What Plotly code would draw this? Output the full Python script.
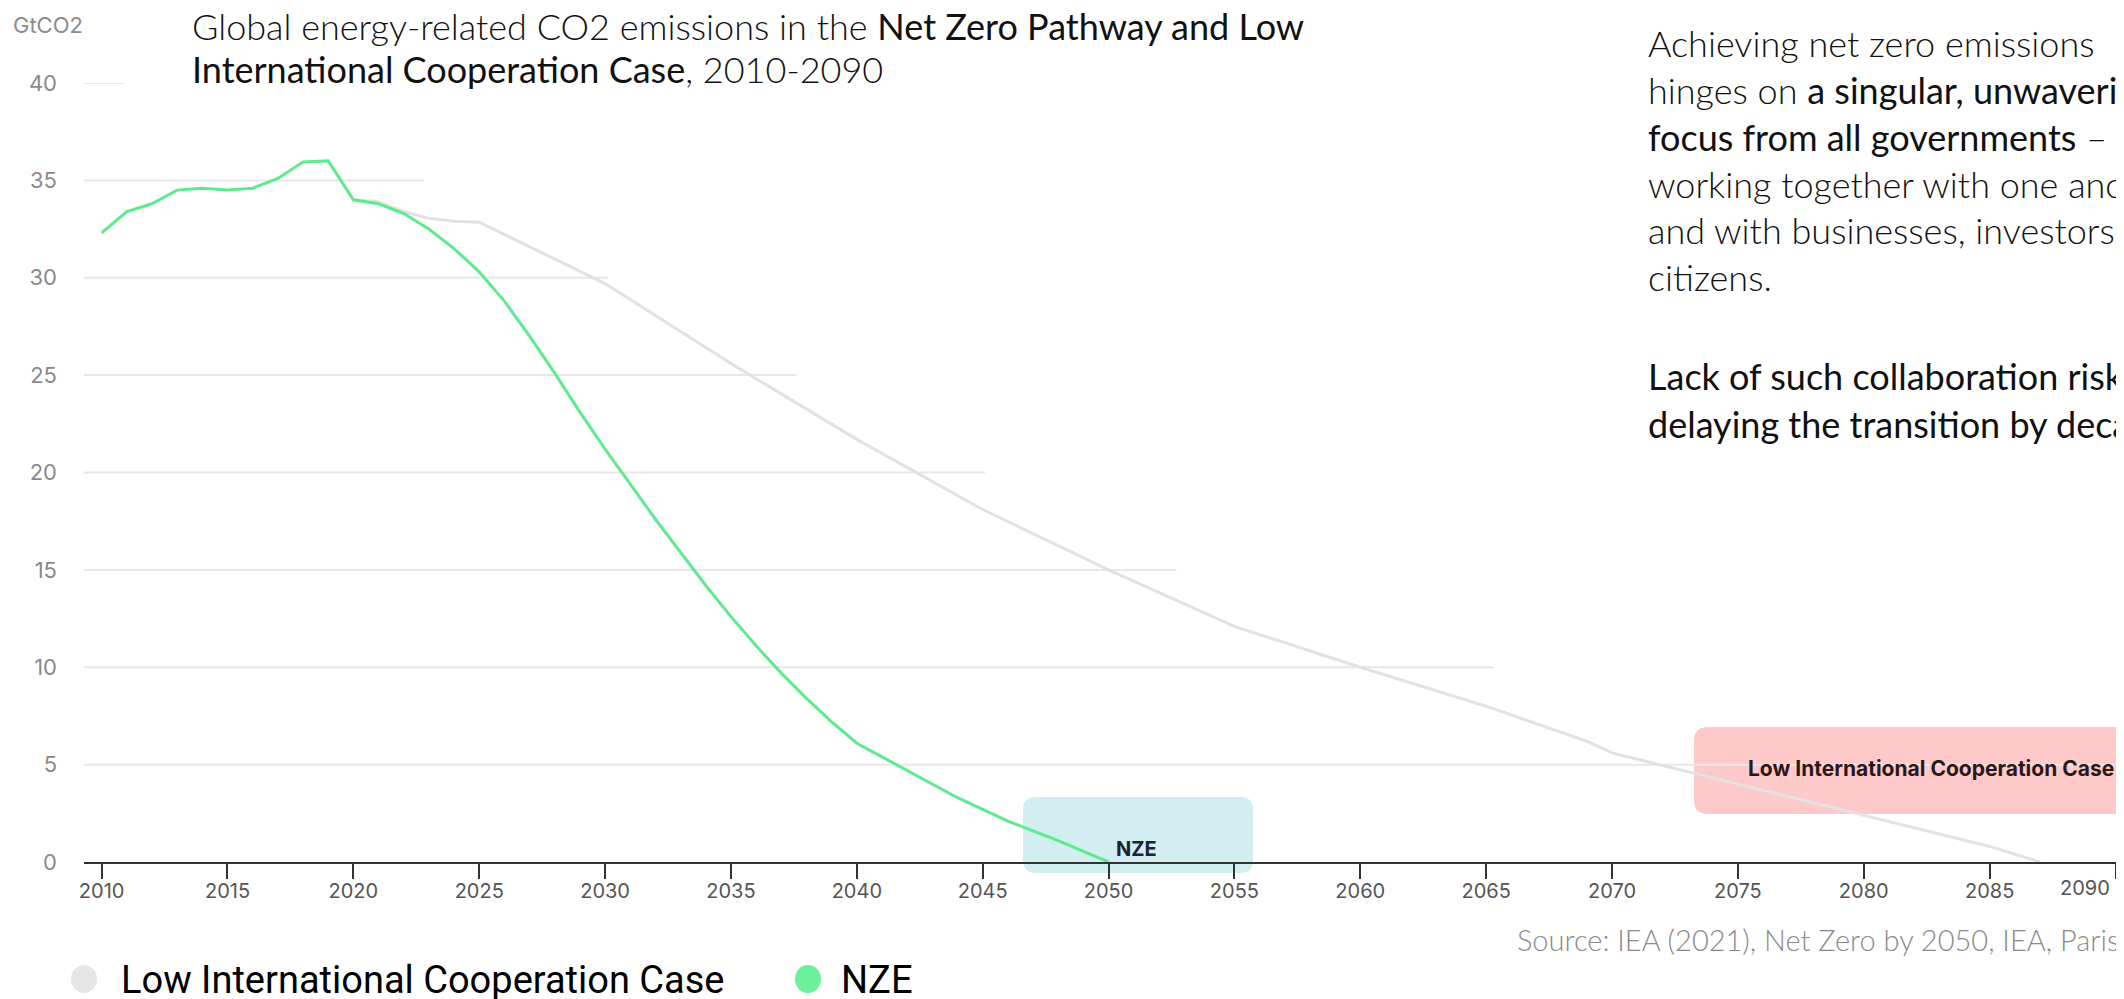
import plotly.graph_objects as go

# ---------------- data ----------------
NZE_YEARS = list(range(2010, 2051))
NZE_VALUES = [32.3, 33.4, 33.8, 34.5, 34.6, 34.5, 34.6, 35.1, 35.95, 36.0,
              34.0, 33.8, 33.3, 32.5, 31.5, 30.3, 28.8, 27.0, 25.1, 23.1,
              21.2, 19.4, 17.6, 15.9, 14.2, 12.6, 11.1, 9.7, 8.4, 7.2,
              6.1, 5.4, 4.7, 4.0, 3.3, 2.7, 2.1, 1.6, 1.1, 0.55, 0.0]

LICC_YEARS = [2020, 2021, 2022, 2023, 2024, 2025, 2030, 2035, 2040, 2045,
              2050, 2055, 2060, 2065, 2069, 2070, 2075, 2080, 2085, 2087]
LICC_VALUES = [34.0, 33.9, 33.4, 33.05, 32.9, 32.85, 29.7, 25.6, 21.7, 18.1,
               15.0, 12.1, 10.0, 8.0, 6.2, 5.6, 4.0, 2.4, 0.8, 0.0]

X_TICKS = list(range(2010, 2091, 5))
X_TICK_TEXT = [str(y) for y in X_TICKS[:-1]] + [""]   # last label placed right-aligned
LAST_TICK_LABEL = str(X_TICKS[-1])
Y_TICKS = list(range(0, 41, 5))
# staggered gridline end years (as in the source image)
GRID_VALUES = [40, 35, 30, 25, 20, 15, 10, 5]
GRID_ENDS = [2010.9, 2022.8, 2030.1, 2037.6, 2045.1, 2052.7, 2065.3, 2090.0]

SERIES_NAMES = ["Low International Cooperation Case", "NZE"]

# ---------------- layout geometry ----------------
W, H = 2124, 999
L, R, T, B = 76, 16, 75, 145
PW, PH = W - L - R, H - T - B
X_MIN, X_MAX = 2009.3, 2090.0

GREEN = "#5fea8f"
GREY = "#e2e2e2"


def pp(x, y):
    """pixel -> paper coords"""
    return (x - L) / PW, (H - B - y) / PH


def rounded_box(x0, y0, x1, y1, r):
    ax0, ay1 = pp(x0, y0)
    ax1, ay0 = pp(x1, y1)
    rx, ry = r / PW, r / PH
    return (f"M {ax0+rx},{ay1} L {ax1-rx},{ay1} Q {ax1},{ay1} {ax1},{ay1-ry} "
            f"L {ax1},{ay0+ry} Q {ax1},{ay0} {ax1-rx},{ay0} "
            f"L {ax0+rx},{ay0} Q {ax0},{ay0} {ax0},{ay0+ry} "
            f"L {ax0},{ay1-ry} Q {ax0},{ay1} {ax0+rx},{ay1} Z")


fig = go.Figure()
fig.add_trace(go.Scatter(x=LICC_YEARS, y=LICC_VALUES, mode="lines",
                         line=dict(color=GREY, width=3), name=SERIES_NAMES[0],
                         showlegend=False, hoverinfo="skip"))
fig.add_trace(go.Scatter(x=NZE_YEARS, y=NZE_VALUES, mode="lines",
                         line=dict(color=GREEN, width=3), name=SERIES_NAMES[1],
                         showlegend=False, hoverinfo="skip"))

shapes = []
for v, e in zip(GRID_VALUES, GRID_ENDS):
    shapes.append(dict(type="line", xref="x", yref="y", x0=X_MIN, x1=e, y0=v, y1=v,
                       line=dict(color="#e8e8e8", width=2), layer="below"))

# annotation boxes
shapes.append(dict(type="path", xref="paper", yref="paper",
                   path=rounded_box(1015, 789, 1245, 865, 13),
                   fillcolor="#d2eef0", line=dict(width=0), layer="below"))
shapes.append(dict(type="path", xref="paper", yref="paper",
                   path=rounded_box(1686, 719, 2150, 806, 14),
                   fillcolor="#fdc9c9", line=dict(width=0), layer="below"))

# legend circles
for cx, col in [(76, "#e6e6e6"), (800, "#6cf09a")]:
    a0, b0 = pp(cx - 13, 957)
    a1, b1 = pp(cx + 13, 985)
    shapes.append(dict(type="circle", xref="paper", yref="paper",
                       x0=a0, x1=a1, y0=b1, y1=b0, fillcolor=col,
                       line=dict(width=0)))

annotations = []


def add_text(x, y, text, size, color, family="Lato", weight=300,
             xanchor="left", yanchor="middle"):
    ax, ay = pp(x, y)
    annotations.append(dict(xref="paper", yref="paper", x=ax, y=ay, text=text,
                            showarrow=False, xanchor=xanchor, yanchor=yanchor,
                            align="left",
                            font=dict(family=family, size=size, color=color,
                                      weight=weight)))


EM = '<span style="font-weight:400">{}</span>'

# title
add_text(182, 18, "Global energy-related CO2 emissions in the " +
         EM.format("Net Zero Pathway and Low"), 36, "#111")
add_text(182, 61, EM.format("International Cooperation Case") + ", 2010-2090",
         36, "#111")

# right text block
right_lines = [
    (35, "Achieving net zero emissions"),
    (82, "hinges on " + EM.format("a singular, unwavering")),
    (129, EM.format("focus from all governments") + " –"),
    (176, "working together with one another"),
    (222, "and with businesses, investors and"),
    (269, "citizens."),
    (368, EM.format("Lack of such collaboration risks")),
    (416, EM.format("delaying the transition by decades.")),
]
for y, t in right_lines:
    add_text(1638, y, t, 36, "#111")

# source
add_text(1507, 931, "Source: IEA (2021), Net Zero by 2050, IEA, Paris", 29, "#8a8a8a")

# axis unit label
add_text(3, 17, "GtCO2", 22, "#8c8c8c", family="Inter", weight=400)

# box labels
add_text(1128, 841, "NZE", 20, "#1c2233", family="Inter", weight=700, xanchor="center")
add_text(1923, 760, "Low International Cooperation Case", 21, "#2a1818",
         family="Inter", weight=700, xanchor="center")

# legend texts
add_text(111, 972, SERIES_NAMES[0], 38, "#000",
         family="Liberation Sans Narrow, Roboto", weight=400)
add_text(831, 972, SERIES_NAMES[1], 38, "#000",
         family="Liberation Sans Narrow, Roboto", weight=400)

# last x tick label, right-aligned to its tick (as in the source)
annotations.append(dict(xref="x", yref="paper", x=X_TICKS[-1], y=pp(0, 880)[1],
                        text=LAST_TICK_LABEL, showarrow=False, xanchor="right",
                        yanchor="middle", xshift=-4,
                        font=dict(family="Inter", size=20, color="#555")))

fig.update_layout(
    width=W, height=H,
    margin=dict(l=L, r=R, t=T, b=B, autoexpand=False),
    paper_bgcolor="white", plot_bgcolor="rgba(0,0,0,0)",
    showlegend=False,
    shapes=shapes, annotations=annotations,
    xaxis=dict(range=[X_MIN, X_MAX + 0.02], tickvals=X_TICKS, ticktext=X_TICK_TEXT,
               showgrid=False,
               zeroline=False, showline=True, linecolor="#333", linewidth=2,
               ticks="outside", ticklen=15, tickwidth=2, tickcolor="#333",
               ticklabelstandoff=-5,
               tickfont=dict(family="Inter", size=20, color="#555")),
    yaxis=dict(range=[0, 40], tickvals=Y_TICKS, showgrid=False, zeroline=False,
               showline=False, ticks="", ticklabelstandoff=26,
               tickfont=dict(family="Inter", size=22, color="#8a8a8a")),
)

fig.write_html("out.html")
